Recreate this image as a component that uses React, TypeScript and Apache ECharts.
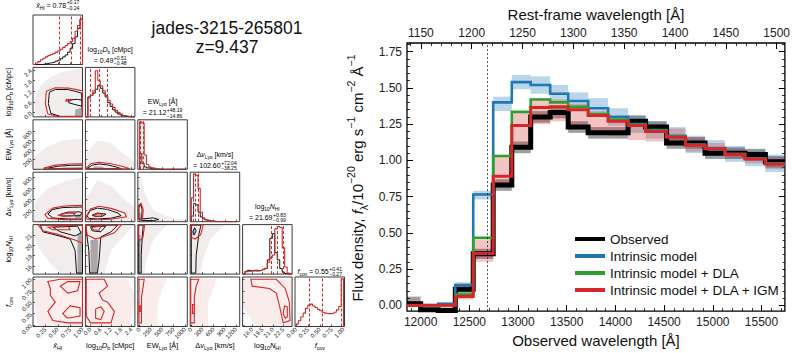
import React, { useEffect, useRef } from "react";
import * as echarts from "echarts";

const FONT = "'Liberation Sans', Arial, Helvetica, sans-serif";

// ================= Spectrum (right panel) =================
const redshift = 9.437;
const lyaObserved = 12688;
const binEdges = [11860, 12000, 12180, 12356, 12540, 12745, 12936, 13130, 13330, 13515, 13720, 13925, 14130, 14310, 14525, 14720, 14920, 15125, 15330, 15540, 15740];
const observedFlux = [0.01, -0.03, -0.035, 0.11, 0.355, 0.83, 1.09, 1.3, 1.33, 1.23, 1.19, 1.19, 1.27, 1.23, 1.12, 1.12, 1.05, 1.05, 1.04, 0.99];
const observedLo = [0.0, -0.035, -0.055, 0.08, 0.32, 0.79, 1.05, 1.26, 1.29, 1.19, 1.15, 1.15, 1.23, 1.19, 1.08, 1.08, 1.01, 1.01, 1.0, 0.95];
const observedHi = [0.06, -0.025, -0.015, 0.14, 0.39, 0.87, 1.13, 1.34, 1.37, 1.27, 1.23, 1.23, 1.31, 1.27, 1.16, 1.16, 1.09, 1.09, 1.08, 1.03];
const intrinsicFlux = [0.0, 0.0, 0.01, 0.14, 0.765, 1.4, 1.54, 1.52, 1.46, 1.41, 1.36, 1.3, 1.25, 1.21, 1.17, 1.11, 1.085, 1.045, 1.015, 0.98];
const intrinsicLo = [-0.01, -0.01, 0.0, 0.12, 0.73, 1.34, 1.49, 1.46, 1.41, 1.35, 1.3, 1.24, 1.19, 1.15, 1.11, 1.05, 1.03, 0.99, 0.96, 0.92];
const intrinsicHi = [0.01, 0.01, 0.02, 0.16, 0.79, 1.44, 1.59, 1.58, 1.52, 1.47, 1.43, 1.36, 1.31, 1.27, 1.23, 1.17, 1.14, 1.1, 1.07, 1.04];
const dlaFlux = [0.0, 0.0, 0.0, 0.075, 0.465, 1.03, 1.335, 1.42, 1.4, 1.37, 1.32, 1.28, 1.245, 1.205, 1.165, 1.105, 1.08, 1.04, 1.01, 0.975];
const igmFlux = [0.0, 0.0, 0.0, 0.06, 0.357, 0.89, 1.24, 1.365, 1.37, 1.35, 1.31, 1.27, 1.24, 1.2, 1.16, 1.105, 1.08, 1.04, 1.01, 0.975];
const igmLo = [-0.01, -0.01, -0.01, 0.04, 0.3, 0.82, 1.09, 1.25, 1.27, 1.22, 1.2, 1.17, 1.14, 1.13, 1.1, 1.06, 1.04, 1.01, 0.98, 0.94];
const igmHi = [0.01, 0.01, 0.01, 0.08, 0.45, 1.03, 1.34, 1.43, 1.42, 1.39, 1.34, 1.3, 1.28, 1.25, 1.22, 1.16, 1.12, 1.08, 1.05, 1.02];
const obsTicks = [12000, 12500, 13000, 13500, 14000, 14500, 15000, 15500];
const restTicks = [1150, 1200, 1250, 1300, 1350, 1400, 1450, 1500];
const fluxTicks = [0, 0.25, 0.5, 0.75, 1.0, 1.25, 1.5, 1.75];
const obsRange = [11860, 15740];
const fluxRange = [-0.04, 1.81];
const legendNames = ["Observed", "Intrinsic model", "Intrinsic model + DLA", "Intrinsic model + DLA + IGM"];

// ================= Corner plot (left panel) =================
// parameter order: xHI, log10 Db, EW_Lya, dv_Lya, log10 NHI, f_cov
const xRanges = [[0, 1.0], [-0.3, 2.6], [-40, 1050], [-30, 1300], [16.6, 23.8], [-0.02, 1.02]];
const yRanges = [[0, 1.04], [-0.25, 2.55], [-20, 1050], [-10, 900], [17.2, 22.0], [-0.03, 1.05]];
const xTickVals = [[0.25, 0.5, 0.75, 1.0], [0, 0.6, 1.2, 1.8, 2.4], [0, 250, 500, 750, 1000], [0, 300, 600, 900, 1200], [18, 19.5, 21, 22.5], [0, 0.25, 0.5, 0.75, 1.0]];
const yTickVals = [[], [0, 0.6, 1.2, 1.8, 2.4], [200, 400, 600, 800], [200, 400, 600, 800], [18, 19, 20, 21], [0, 0.25, 0.5, 0.75, 1.0]];
const xDecimals = [2, 1, 0, 0, 1, 2];
const yDecimals = [0, 1, 0, 0, 0, 2];

const histStart = [0, -0.3, 0, 0, 16.6, 0];
const histStep = [0.05, 0.145, 50, 60, 0.36, 0.05];
const histBlackXhi = [0, 0, 0, 0, 0.01, 0.02, 0.03, 0.04, 0.05, 0.07, 0.09, 0.12, 0.16, 0.2, 0.26, 0.34, 0.44, 0.58, 0.76, 0.95];
const histRedXhi = [0, 0.03, 0.06, 0.1, 0.13, 0.16, 0.19, 0.21, 0.23, 0.26, 0.29, 0.32, 0.36, 0.4, 0.44, 0.48, 0.55, 0.7, 0.82, 0.95];
const histBlackDb = [0.0, 0.42, 0.45, 0.5, 0.58, 0.66, 0.6, 0.5, 0.42, 0.3, 0.22, 0.15, 0.1, 0.06, 0.04, 0.02, 0.01, 0, 0, 0];
const histRedDb = [0.0, 0.4, 0.45, 0.55, 0.97, 0.76, 0.65, 0.55, 0.45, 0.35, 0.27, 0.2, 0.14, 0.09, 0.06, 0.03, 0.02, 0.01, 0, 0];
const histBlackEw = [0.33, 0.12, 0.05, 0.03, 0.02, 0.01, 0.01, 0.005, 0, 0, 0, 0, 0, 0, 0, 0, 0, 0, 0, 0];
const histRedEw = [1.0, 0.97, 0.3, 0.1, 0.05, 0.03, 0.02, 0.01, 0.005, 0, 0, 0, 0, 0, 0, 0, 0, 0, 0, 0];
const histBlackDv = [0.12, 0.38, 0.35, 0.2, 0.1, 0.06, 0.04, 0.03, 0.02, 0.01, 0.01, 0, 0, 0, 0, 0, 0, 0, 0, 0];
const histRedDv = [0.5, 1.0, 0.97, 0.7, 0.2, 0.08, 0.04, 0.02, 0.01, 0, 0, 0, 0, 0, 0, 0, 0, 0, 0, 0];
const histBlackNhi = [0, 0.06, 0.08, 0.07, 0.08, 0.08, 0.07, 0.08, 0.1, 0.12, 0.3, 0.75, 0.85, 0.45, 0.3, 0.12, 0.04, 0.01, 0, 0];
const histRedNhi = [0, 0.05, 0.06, 0.06, 0.07, 0.06, 0.07, 0.08, 0.1, 0.12, 0.25, 0.35, 0.4, 0.95, 1.0, 0.98, 0.55, 0.15, 0.02, 0];
const histRedFcov = [0.05, 0.12, 0.2, 0.28, 0.38, 0.45, 0.47, 0.43, 0.4, 0.36, 0.33, 0.3, 0.28, 0.27, 0.27, 0.28, 0.3, 0.35, 0.42, 1.0];
const histBlack = [histBlackXhi, histBlackDb, histBlackEw, histBlackDv, histBlackNhi, []];
const histRed = [histRedXhi, histRedDb, histRedEw, histRedDv, histRedNhi, histRedFcov];
const quantiles = [[0.54, 0.78, 0.95], [0.01, 0.49, 1.0], [6.26, 21.12, 69.31], [64.35, 102.6, 174.64], [20.7, 21.69, 22.52], [0.28, 0.55, 0.96]];
const medians = ["0.78", "0.49", "21.12", "102.60", "21.69", "0.55"];
const plusErr = ["+0.17", "+0.51", "+48.19", "+72.04", "+0.83", "+0.41"];
const minusErr = ["\u22120.24", "\u22120.48", "\u221214.86", "\u221238.25", "\u22120.99", "\u22120.27"];

// 2D panels: cloud (scatter envelope), core (dense region), black / red contours
const pDbXhi = {
  cloud: [[0.03, 0.1], [0.05, 0.9], [0.15, 1.5], [0.35, 2.0], [0.6, 2.3], [1.0, 2.5], [1.0, -0.25], [0.12, -0.25]],
  core: [[0.85, -0.25], [0.85, 0.15], [1.0, 0.3], [1.0, -0.25]],
  black: [[[0.33, 1.15], [0.45, 1.3], [0.7, 1.3], [0.85, 1.2], [0.98, 1.1], [1.0, -0.22], [0.55, -0.22], [0.36, -0.05], [0.31, 0.5]],
    [[0.72, 0.72], [0.9, 0.74], [0.99, 0.7], [0.99, 0.35], [0.85, 0.45], [0.72, 0.55]]],
  red: [[[0.27, 1.2], [0.45, 1.4], [0.72, 1.38], [0.9, 1.28], [1.0, 1.22], [1.0, -0.23], [0.5, -0.23], [0.3, -0.08], [0.25, 0.5]],
    [[0.68, 0.74], [0.78, 0.7], [0.72, 0.62], [0.66, 0.66]]],
};
const pEwXhi = {
  cloud: [[0.02, -20], [0.03, 250], [0.25, 450], [0.6, 600], [1.0, 650], [1.0, -20]],
  core: [[0.6, -20], [0.6, 20], [1.0, 30], [1.0, -20]],
  black: [[[0.3, 5], [0.5, 45], [0.75, 65], [1.0, 70], [1.0, -5], [0.3, -5]]],
  red: [[[0.22, 5], [0.45, 70], [0.75, 95], [1.0, 100], [1.0, -10], [0.22, -10]]],
};
const pEwDb = {
  cloud: [[-0.3, -20], [-0.3, 300], [0.4, 600], [1.2, 550], [2.0, 300], [2.6, 120], [2.6, -20]],
  core: [[0.1, -20], [0.2, 40], [0.7, 40], [0.9, -20]],
  black: [[[-0.2, -5], [0.1, 70], [0.5, 95], [1.0, 75], [1.5, 30], [1.8, -5]]],
  red: [[[-0.28, -10], [0.0, 100], [0.5, 130], [1.2, 100], [1.9, 40], [2.3, -10]]],
};
const pDvXhi = {
  cloud: [[0.02, -10], [0.03, 350], [0.3, 600], [0.7, 750], [1.0, 800], [1.0, -10]],
  core: [[0.85, 60], [0.85, 120], [1.0, 130], [1.0, 60]],
  black: [[[0.3, 130], [0.4, 215], [0.6, 250], [0.8, 255], [1.0, 260], [1.0, 40], [0.7, 40], [0.4, 60]],
    [[0.55, 125], [0.7, 165], [0.95, 170], [0.99, 150], [0.95, 100], [0.6, 95]]],
  red: [[[0.24, 120], [0.4, 240], [0.6, 275], [0.8, 285], [1.0, 290], [1.0, 28], [0.6, 28], [0.3, 55]],
    [[0.5, 110], [0.7, 150], [0.85, 140], [0.8, 100], [0.6, 92]]],
};
const pDvDb = {
  cloud: [[-0.3, -10], [-0.3, 400], [0.4, 750], [1.2, 650], [2.0, 400], [2.6, 250], [2.6, -10]],
  core: [[0.2, 90], [0.3, 130], [0.6, 120], [0.5, 85]],
  black: [[[-0.2, 100], [0.0, 200], [0.4, 240], [1.0, 215], [1.6, 150], [1.8, 100], [1.2, 55], [0.4, 40], [-0.1, 50]],
    [[0.1, 110], [0.4, 150], [0.9, 130], [0.7, 90], [0.3, 85]]],
  red: [[[-0.26, 80], [0.0, 225], [0.5, 275], [1.2, 235], [2.0, 150], [2.1, 80], [1.2, 35], [0.4, 25], [-0.2, 35]],
    [[0.2, 100], [0.4, 140], [0.7, 130], [0.6, 90], [0.3, 80]]],
};
const pDvEw = {
  cloud: [[-40, -10], [-40, 700], [20, 850], [120, 500], [300, 200], [700, 60], [1050, 30], [1050, -10]],
  core: [[-10, 60], [-10, 150], [20, 160], [30, 70]],
  black: [[[-15, 50], [-15, 250], [20, 310], [55, 210], [45, 80], [20, 35]], [[40, 40], [300, 60], [420, 30], [300, 10], [40, 15]]],
  red: [[[-25, 35], [-25, 290], [30, 330], [80, 210], [65, 60], [20, 20]]],
};
const pNhiXhi = {
  cloud: [[0.02, 22.0], [1.0, 22.0], [1.0, 17.2], [0.55, 17.2], [0.3, 18.5], [0.05, 20.2]],
  core: [[0.9, 17.2], [0.9, 21.0], [1.0, 21.5], [1.0, 17.2]],
  black: [[[0.15, 21.95], [1.0, 21.95], [1.0, 17.3], [0.88, 17.3], [0.85, 19.5], [0.75, 20.6], [0.45, 21.0], [0.2, 21.3]],
    [[0.4, 21.75], [0.9, 21.85], [0.97, 21.2], [0.85, 20.9], [0.55, 21.3]]],
  red: [[[0.1, 21.98], [1.0, 21.98], [1.0, 20.2], [0.85, 20.5], [0.5, 21.05], [0.2, 21.4]],
    [[0.3, 21.75], [0.7, 21.9], [0.75, 21.5], [0.4, 21.5]]],
};
const pNhiDb = {
  cloud: [[-0.3, 22], [2.6, 22], [2.0, 21], [1.2, 19.5], [0.8, 17.2], [-0.3, 17.2]],
  core: [[0.0, 17.3], [0.0, 20.5], [0.45, 20.5], [0.4, 17.3]],
  black: [[[-0.28, 21.95], [1.6, 21.95], [1.2, 21.3], [0.6, 20.8], [0.5, 18.5], [0.4, 17.3], [-0.05, 17.3], [-0.1, 19.5], [-0.2, 20.8]],
    [[0.0, 21.8], [0.9, 21.85], [0.6, 21.3], [0.1, 21.4]]],
  red: [[[-0.28, 21.98], [1.8, 21.98], [1.4, 21.2], [0.7, 20.8], [0.3, 20.6], [-0.2, 21.0]],
    [[0.1, 21.75], [0.6, 21.85], [0.5, 21.45], [0.15, 21.5]]],
};
const pNhiEw = {
  cloud: [[-40, 22], [600, 22], [300, 20.5], [150, 18.5], [100, 17.2], [-40, 17.2]],
  core: [[-15, 17.3], [-15, 21], [20, 21], [20, 17.3]],
  black: [[[-20, 21.95], [80, 21.95], [60, 21.0], [35, 19.0], [35, 17.3], [-20, 17.3]]],
  red: [[[-25, 21.98], [110, 21.98], [75, 20.8], [20, 20.5], [-25, 20.5]]],
};
const pNhiDv = {
  cloud: [[-30, 22], [900, 22], [500, 20.5], [300, 18.5], [250, 17.2], [-30, 17.2]],
  core: [[20, 21.0], [50, 21.6], [100, 21.5], [80, 20.9]],
  black: [[[0, 21.95], [260, 21.95], [200, 21.0], [130, 19.0], [120, 17.3], [0, 17.3]], [[40, 21.3], [90, 21.7], [130, 21.4], [80, 21.0]]],
  red: [[[-15, 21.98], [320, 21.98], [250, 21.0], [100, 20.6], [-15, 20.8]]],
};
const pFcXhi = {
  cloud: [[0.03, 1.02], [1.0, 1.02], [1.0, -0.02], [0.1, -0.02], [0.02, 0.5]],
  core: [],
  black: [],
  red: [[[0.3, 0.95], [0.55, 1.0], [1.0, 1.0], [1.0, 0.05], [0.7, 0.05], [0.4, 0.1], [0.3, 0.3], [0.45, 0.5], [0.35, 0.65], [0.35, 0.8]],
    [[0.6, 0.25], [0.75, 0.42], [0.95, 0.38], [0.95, 0.2], [0.7, 0.15]],
    [[0.55, 0.85], [0.7, 0.95], [0.95, 0.95], [0.9, 0.75], [0.7, 0.7]]],
};
const pFcDb = {
  cloud: [[-0.3, 1.02], [2.2, 1.02], [2.6, 0.6], [2.3, -0.02], [-0.3, -0.02]],
  core: [],
  black: [],
  red: [[[-0.25, 1.0], [0.8, 1.0], [1.0, 0.85], [0.5, 0.7], [0.7, 0.55], [1.0, 0.5], [1.4, 0.3], [1.2, 0.05], [0.0, 0.05], [-0.25, 0.2]],
    [[0.3, 0.15], [0.3, 0.35], [0.6, 0.4], [0.8, 0.3], [0.6, 0.12]]],
};
const pFcEw = {
  cloud: [[-40, 1.02], [600, 1.02], [400, 0.5], [400, -0.02], [-40, -0.02]],
  core: [],
  black: [],
  red: [[[-15, 1.0], [100, 1.0], [80, 0.85], [40, 0.6], [40, 0.05], [-15, 0.05]], [[-10, 0.3], [-10, 0.42], [15, 0.42], [15, 0.3]]],
};
const pFcDv = {
  cloud: [[-30, 1.02], [700, 1.02], [450, 0.5], [450, -0.02], [-30, -0.02]],
  core: [],
  black: [],
  red: [[[-15, 1.0], [200, 1.0], [130, 0.85], [80, 0.6], [80, 0.05], [-15, 0.05]], [[30, 0.25], [30, 0.45], [80, 0.45], [80, 0.25]]],
};
const pFcNhi = {
  cloud: [[16.6, 1.02], [23.8, 1.02], [23.8, -0.02], [18.5, -0.02], [16.6, 0.4]],
  core: [],
  black: [],
  red: [[[17.8, 1.0], [21.5, 1.0], [22.8, 0.8], [23.4, 0.5], [23.5, 0.1], [22.5, 0.05], [22.0, 0.4], [21.5, 0.7], [20.5, 0.8], [18.0, 0.85]],
    [[22.5, 0.25], [22.7, 0.42], [23.1, 0.4], [23.1, 0.18], [22.8, 0.15]]],
};
const panels2D = [
  { row: 1, col: 0, p: pDbXhi },
  { row: 2, col: 0, p: pEwXhi }, { row: 2, col: 1, p: pEwDb },
  { row: 3, col: 0, p: pDvXhi }, { row: 3, col: 1, p: pDvDb }, { row: 3, col: 2, p: pDvEw },
  { row: 4, col: 0, p: pNhiXhi }, { row: 4, col: 1, p: pNhiDb }, { row: 4, col: 2, p: pNhiEw }, { row: 4, col: 3, p: pNhiDv },
  { row: 5, col: 0, p: pFcXhi }, { row: 5, col: 1, p: pFcDb }, { row: 5, col: 2, p: pFcEw }, { row: 5, col: 3, p: pFcDv }, { row: 5, col: 4, p: pFcNhi },
];

// label token lists: [style, text]; n = normal, i = italic, s = subscript
const paramLabels: [string, string][][] = [
  [["i", "x\u0304"], ["s", "HI"]],
  [["n", "log"], ["s", "10"], ["i", "D"], ["s", "b"], ["n", " [cMpc]"]],
  [["n", "EW"], ["s", "Ly\u03b1"], ["n", " [\u00c5]"]],
  [["n", "\u0394"], ["i", "v"], ["s", "Ly\u03b1"], ["n", " [km/s]"]],
  [["n", "log"], ["s", "10"], ["i", "N"], ["s", "HI"]],
  [["i", "f"], ["s", "cov"]],
];

// ================= helpers =================
let measureCtx: CanvasRenderingContext2D | null = null;
function measure(text: string, size: number, italic: boolean) {
  if (!measureCtx) measureCtx = document.createElement("canvas").getContext("2d");
  measureCtx!.font = `${italic ? "italic " : ""}${size}px ${FONT}`;
  return measureCtx!.measureText(text).width;
}
function richStyles(size: number) {
  return {
    n: { fontSize: size, fontFamily: FONT, fill: "#000", lineHeight: size + 4 },
    i: { fontSize: size, fontFamily: FONT, fontStyle: "italic", fill: "#000", lineHeight: size + 4 },
    s: { fontSize: size * 0.7, fontFamily: FONT, fill: "#000", lineHeight: size * 0.7, verticalAlign: "bottom" },
    p: { fontSize: size * 0.7, fontFamily: FONT, fill: "#000", lineHeight: size * 0.7, verticalAlign: "top" },
  };
}
function tokWidth(tokens: [string, string][], size: number) {
  return tokens.reduce((a, [k, t]) => a + measure(t, k === "s" || k === "p" ? size * 0.7 : size, k === "i"), 0);
}
function richText(tokens: [string, string][]) {
  return tokens.map(([k, t]) => `{${k}|${t}}`).join("");
}
function textEl(x: number, y: number, tokens: [string, string][], size: number, align: string, rotation = 0) {
  return {
    type: "text", x, y, rotation, silent: true,
    style: {
      text: richText(tokens), rich: richStyles(size), fontSize: size, fontFamily: FONT, fill: "#000",
      align, verticalAlign: "middle", textAlign: align, textVerticalAlign: "middle",
    },
  };
}
function plainText(x: number, y: number, text: string, size: number, align = "left") {
  return {
    type: "text", x, y, silent: true,
    style: { text, fontSize: size, fontFamily: FONT, fill: "#000", align, verticalAlign: "middle", textAlign: align, textVerticalAlign: "middle" },
  };
}
// label "= value" with stacked +err / -err
function summaryEls(cx: number, y: number, tokens: [string, string][], p: number, size: number) {
  const w = tokWidth(tokens, size);
  const sw = Math.max(measure(plusErr[p], size * 0.72, false), measure(minusErr[p], size * 0.72, false));
  const x0 = cx - (w + sw + 0.5) / 2;
  return [
    textEl(x0, y, tokens, size, "left"),
    plainText(x0 + w + 0.5, y - 2.6, plusErr[p], size * 0.72),
    plainText(x0 + w + 0.5, y + 2.8, minusErr[p], size * 0.72),
  ];
}

function buildOption() {
  const CL = 33, CT = 15, PITCH = 52.4, SZ = 49.5;
  const grids: any[] = [], xAxes: any[] = [], yAxes: any[] = [], series: any[] = [], graphics: any[] = [];
  const gridOf: Record<string, number> = {};

  for (let i = 0; i < 6; i++) {
    for (let j = 0; j <= i; j++) {
      const g = grids.length;
      gridOf[`${i}_${j}`] = g;
      grids.push({ left: CL + j * PITCH, top: CT + i * PITCH, width: SZ, height: SZ, show: true, borderColor: "#3a3a3a", borderWidth: 1, backgroundColor: "transparent" });
      xAxes.push({
        gridIndex: g, type: "value", min: xRanges[j][0], max: xRanges[j][1], position: "bottom",
        axisLine: { show: false, onZero: false }, splitLine: { show: false },
        axisTick: { show: true, inside: true, length: 2, customValues: xTickVals[j], lineStyle: { color: "#333", width: 0.8 } },
        axisLabel: {
          show: i === 5, customValues: xTickVals[j], rotate: 45, fontSize: 6, margin: 2, color: "#222", fontFamily: FONT,
          formatter: (v: number) => v.toFixed(xDecimals[j]),
        },
      });
      if (i === j) {
        yAxes.push({ gridIndex: g, type: "value", min: yRanges[0][0], max: yRanges[0][1], show: false });
      } else {
        yAxes.push({
          gridIndex: g, type: "value", min: yRanges[i][0], max: yRanges[i][1], position: "left",
          axisLine: { show: false, onZero: false }, splitLine: { show: false },
          axisTick: { show: true, inside: true, length: 2, customValues: yTickVals[i], lineStyle: { color: "#333", width: 0.8 } },
          axisLabel: {
            show: j === 0, customValues: yTickVals[i], rotate: 45, fontSize: 6, margin: 2, color: "#222", fontFamily: FONT,
            formatter: (v: number) => v.toFixed(yDecimals[i]),
          },
        });
      }
    }
  }

  // 2D panels
  panels2D.forEach(({ row, col, p }) => {
    const g = gridOf[`${row}_${col}`];
    const redOnly = row === 5;
    series.push({
      type: "custom", xAxisIndex: g, yAxisIndex: g, clip: true, silent: true,
      data: [p.cloud[0]],
      renderItem: (_params: any, api: any) => {
        const poly = (pts: number[][], style: any) => ({ type: "polygon", shape: { points: pts.map((q) => api.coord(q)) }, style });
        const children: any[] = [];
        children.push(poly(p.cloud, { fill: redOnly ? "rgba(214,39,40,0.09)" : "rgba(110,45,45,0.09)" }));
        if (p.red[0]) children.push(poly(p.red[0], { fill: redOnly ? "rgba(255,238,238,0.85)" : "rgba(255,255,255,0.75)" }));
        if (p.black[0]) children.push(poly(p.black[0], { fill: "rgba(238,235,235,0.85)" }));
        if (p.core.length) children.push(poly(p.core, { fill: "rgba(40,40,40,0.35)" }));
        p.black.forEach((c: number[][]) => children.push(poly(c, { fill: "none", stroke: "#111", lineWidth: 1 })));
        p.red.forEach((c: number[][]) => children.push(poly(c, { fill: "none", stroke: "#d62728", lineWidth: 1.1 })));
        return { type: "group", children };
      },
    });
  });

  // histograms
  const histData = (start: number, step: number, h: number[]) => {
    const d: number[][] = [[start, 0]];
    h.forEach((v, k) => d.push([start + k * step, v]));
    d.push([start + h.length * step, h[h.length - 1]]);
    d.push([start + h.length * step, 0]);
    return d;
  };
  for (let p = 0; p < 6; p++) {
    const g = gridOf[`${p}_${p}`];
    if (histBlack[p].length) {
      series.push({
        type: "line", xAxisIndex: g, yAxisIndex: g, step: "end", symbol: "none", silent: true,
        data: histData(histStart[p], histStep[p], histBlack[p]), lineStyle: { color: "#111", width: 1 },
      });
    }
    series.push({
      type: "line", xAxisIndex: g, yAxisIndex: g, step: "end", symbol: "none", silent: true,
      data: histData(histStart[p], histStep[p], histRed[p]), lineStyle: { color: "#d62728", width: 1.1 },
      markLine: {
        silent: true, symbol: ["none", "none"], label: { show: false },
        lineStyle: { color: "#d62728", type: [3, 2], width: 1 },
        data: quantiles[p].map((q) => ({ xAxis: q })),
      },
    });
  }

  // corner texts
  for (let p = 0; p < 6; p++) {
    const cx = CL + p * PITCH + SZ / 2;
    const top = CT + p * PITCH;
    if (p === 0 || p === 5) {
      const y = p === 0 ? top - 10 : top - 5.5;
      graphics.push(...summaryEls(cx, y, [...paramLabels[p], ["n", ` = ${medians[p]}`]], p, 7));
    } else {
      graphics.push(textEl(cx, top - 18, paramLabels[p], 7, "center"));
      graphics.push(...summaryEls(cx, top - 7, [["n", `= ${medians[p]}`]], p, 7));
    }
    graphics.push(textEl(cx, 345, paramLabels[p], 7.5, "center"));
    if (p >= 1) graphics.push(textEl(8, top + SZ / 2, paramLabels[p], 7.5, "center", Math.PI / 2));
  }

  graphics.push({ type: "text", x: 227, y: 28, silent: true, style: { text: "jades-3215-265801", fontSize: 17.5, fontFamily: FONT, fill: "#111", align: "center", verticalAlign: "middle", textAlign: "center", textVerticalAlign: "middle" } });
  graphics.push({ type: "text", x: 227, y: 46.5, silent: true, style: { text: "z=9.437", fontSize: 17.5, fontFamily: FONT, fill: "#111", align: "center", verticalAlign: "middle", textAlign: "center", textVerticalAlign: "middle" } });

  graphics.push({
    type: "text", x: 357, y: 178, rotation: Math.PI / 2, silent: true,
    style: {
      text: "{n|Flux density, }{i|f}{b|\u03bb}{n|/10}{p|\u221220}{n| erg s}{p|\u22121}{n| cm}{p|\u22122}{n| \u00c5}{p|\u22121}",
      align: "center", verticalAlign: "middle", textAlign: "center", textVerticalAlign: "middle", fontSize: 15, fontFamily: FONT,
      rich: {
        n: { fontSize: 15, fontFamily: FONT, fill: "#111", lineHeight: 24 },
        i: { fontSize: 15, fontFamily: FONT, fontStyle: "italic", fill: "#111", lineHeight: 24 },
        b: { fontSize: 10.5, fontFamily: FONT, fill: "#111", lineHeight: 11, verticalAlign: "bottom" },
        p: { fontSize: 10.5, fontFamily: FONT, fill: "#111", lineHeight: 11, verticalAlign: "top" },
      },
    },
  });

  // ===== spectrum grid =====
  const RG = grids.length;
  grids.push({ left: 407, top: 43, width: 381, height: 270, show: true, borderColor: "#000", borderWidth: 1.3, backgroundColor: "transparent" });
  const obsMinor: number[] = [];
  for (let w = 11900; w <= 15700; w += 100) obsMinor.push(w);
  const restMinor: number[] = [];
  for (let r = 1140; r <= 1500; r += 10) restMinor.push(r * (1 + redshift));
  const fluxMinor: number[] = [];
  for (let k = 0; k <= 36; k++) fluxMinor.push(Math.round(k * 5) / 100);
  const tickFont = { fontSize: 12, color: "#222", fontFamily: FONT };
  const RX = xAxes.length;
  const baseX = { gridIndex: RG, type: "value", min: obsRange[0], max: obsRange[1], splitLine: { show: false }, axisLine: { show: false, onZero: false } };
  xAxes.push({
    ...baseX, position: "bottom",
    axisTick: { inside: true, length: 6, customValues: obsTicks, lineStyle: { color: "#000", width: 1 } },
    axisLabel: { ...tickFont, customValues: obsTicks, margin: 5, formatter: (v: number) => String(v) },
    name: "Observed wavelength [\u00c5]", nameLocation: "middle", nameGap: 21,
    nameTextStyle: { fontSize: 15, fontFamily: FONT, color: "#111" },
  });
  xAxes.push({ ...baseX, position: "bottom", axisTick: { inside: true, length: 3, customValues: obsMinor, lineStyle: { color: "#000", width: 0.8 } }, axisLabel: { show: false } });
  xAxes.push({
    ...baseX, position: "top",
    axisTick: { inside: true, length: 6, customValues: restTicks.map((r) => r * (1 + redshift)), lineStyle: { color: "#000", width: 1 } },
    axisLabel: { ...tickFont, customValues: restTicks.map((r) => r * (1 + redshift)), margin: 4, formatter: (v: number) => String(Math.round(v / (1 + redshift))) },
    name: "Rest-frame wavelength [\u00c5]", nameLocation: "middle", nameGap: 20,
    nameTextStyle: { fontSize: 15, fontFamily: FONT, color: "#111" },
  });
  xAxes.push({ ...baseX, position: "top", axisTick: { inside: true, length: 3, customValues: restMinor, lineStyle: { color: "#000", width: 0.8 } }, axisLabel: { show: false } });

  const RY = yAxes.length;
  const baseY = { gridIndex: RG, type: "value", min: fluxRange[0], max: fluxRange[1], splitLine: { show: false }, axisLine: { show: false, onZero: false } };
  yAxes.push({
    ...baseY, position: "left",
    axisTick: { inside: true, length: 6, customValues: fluxTicks, lineStyle: { color: "#000", width: 1 } },
    axisLabel: { ...tickFont, customValues: fluxTicks, margin: 5, formatter: (v: number) => v.toFixed(2) },
  });
  yAxes.push({ ...baseY, position: "left", axisTick: { inside: true, length: 3, customValues: fluxMinor, lineStyle: { color: "#000", width: 0.8 } }, axisLabel: { show: false } });
  yAxes.push({ ...baseY, position: "right", axisTick: { inside: true, length: 6, customValues: fluxTicks, lineStyle: { color: "#000", width: 1 } }, axisLabel: { show: false } });
  yAxes.push({ ...baseY, position: "right", axisTick: { inside: true, length: 3, customValues: fluxMinor, lineStyle: { color: "#000", width: 0.8 } }, axisLabel: { show: false } });

  const band = (lo: number[], hi: number[], color: string) => ({
    type: "custom", xAxisIndex: RX, yAxisIndex: RY, silent: true, clip: true,
    data: lo.map((l, k) => [binEdges[k], binEdges[k + 1], l, hi[k]]),
    encode: { x: [0, 1], y: [2, 3] },
    renderItem: (_params: any, api: any) => {
      const a = api.coord([api.value(0), api.value(3)]);
      const b = api.coord([api.value(1), api.value(2)]);
      return { type: "rect", shape: { x: a[0], y: a[1], width: b[0] - a[0], height: b[1] - a[1] }, style: { fill: color } };
    },
  });
  const stepLine = (name: string, vals: number[], color: string, width: number) => {
    const data = vals.map((v, k) => [binEdges[k], v]);
    data.push([binEdges[vals.length], vals[vals.length - 1]]);
    return {
      type: "line", name, xAxisIndex: RX, yAxisIndex: RY, step: "end", symbol: "none", showSymbol: false, silent: true,
      data, lineStyle: { color, width, join: "miter" }, itemStyle: { color },
    };
  };
  const obsLine: any = stepLine(legendNames[0], observedFlux, "#000", 5);
  obsLine.markLine = {
    silent: true, symbol: ["none", "none"], label: { show: false },
    lineStyle: { color: "#222", type: [2, 2], width: 0.8 },
    data: [{ xAxis: lyaObserved }],
  };
  series.push(obsLine);
  series.push(band(observedLo, observedHi, "rgba(0,0,0,0.38)"));
  series.push(band(intrinsicLo, intrinsicHi, "rgba(31,119,180,0.3)"));
  series.push(stepLine(legendNames[1], intrinsicFlux, "#1f77b4", 2.6));
  series.push(stepLine(legendNames[2], dlaFlux, "#2ca02c", 2.6));
  series.push(band(igmLo, igmHi, "rgba(214,39,40,0.28)"));
  series.push(stepLine(legendNames[3], igmFlux, "#d62728", 3));

  return {
    animation: false,
    backgroundColor: "#fff",
    grid: grids,
    xAxis: xAxes,
    yAxis: yAxes,
    series,
    graphic: { elements: graphics },
    legend: {
      data: legendNames, left: 572, top: 229, orient: "vertical", icon: "rect", itemWidth: 30, itemHeight: 4, itemGap: 3,
      backgroundColor: "#fff", padding: [3, 3, 3, 3],
      selectedMode: false, textStyle: { fontSize: 13.5, fontFamily: FONT, color: "#111" },
    },
  };
}

export default function App() {
  const ref = useRef<HTMLDivElement>(null);
  useEffect(() => {
    const chart = echarts.init(ref.current!, null, { renderer: "svg" });
    chart.setOption(buildOption() as any);
    return () => chart.dispose();
  }, []);
  return <div ref={ref} style={{ position: "fixed", left: 0, top: 0, width: 793, height: 353, background: "#fff" }} />;
}
